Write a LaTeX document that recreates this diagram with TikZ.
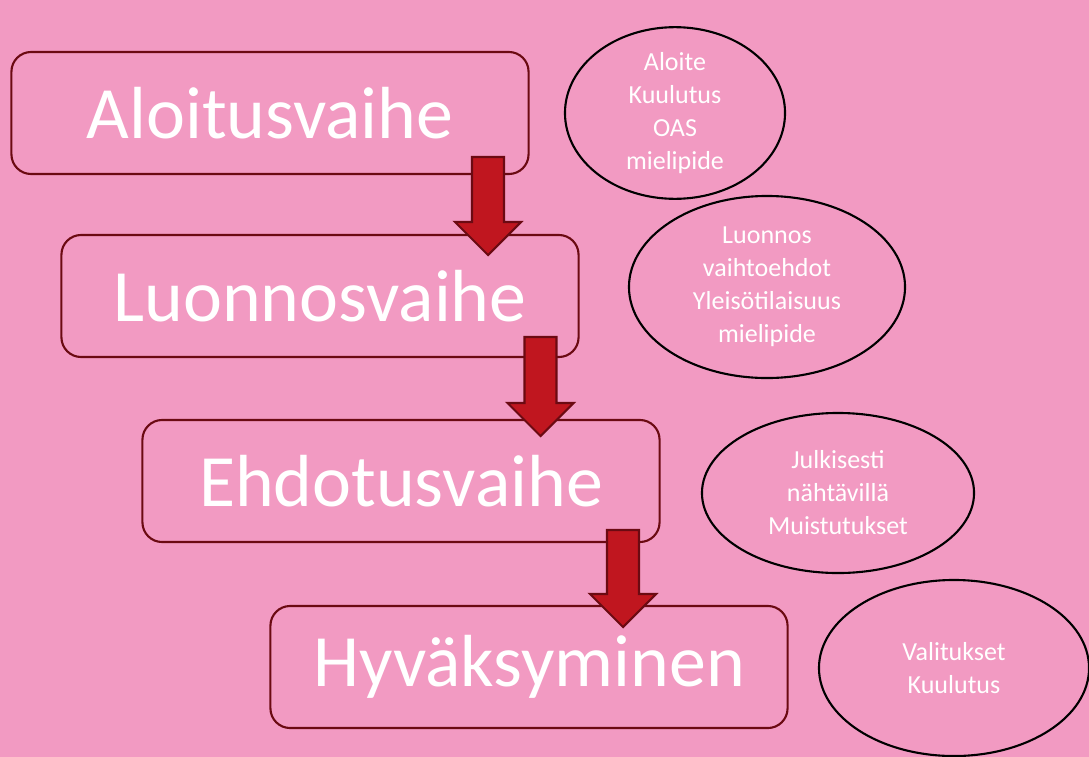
\documentclass[tikz,border=0pt]{standalone}
\usepackage{fontspec}
\setmainfont{Carlito}
\usetikzlibrary{shapes.geometric,positioning}

\definecolor{bgpink}{RGB}{242,154,194}
\definecolor{boxline}{RGB}{107,10,18}
\definecolor{arrowred}{RGB}{192,22,31}

\tikzset{
  phase/.style={draw=boxline, line width=1.5pt, rounded corners=14pt,
    minimum width=12.925cm, minimum height=3.05cm, text=white,
    font=\fontsize{52.5}{60}\selectfont},
  fat arrow/.style={draw=boxline, fill=arrowred, line width=1.5pt, line join=miter},
  note/.style={ellipse, draw=black, line width=1.5pt, fill=bgpink, text=white,
    align=center, inner sep=0pt, font=\fontsize{18.5}{23.5}\selectfont}
}
% downward block arrow: x, top, tip
\newcommand{\phasearrow}[3]{%
  \draw[fat arrow] (#1-16,#2) -- (#1+16,#2) -- (#1+16,#3-33) -- (#1+33,#3-33)
    -- (#1,#3) -- (#1-33,#3-33) -- (#1-16,#3-33) -- cycle;}

\begin{document}
\begin{tikzpicture}[x=0.025cm, y=-0.025cm]
\useasboundingbox (0,0) rectangle (1089,756);
\clip (-2,-2) rectangle (1091,758);
\fill[bgpink] (-10,-10) rectangle (1099,766);

% vaiheet
\node[phase] (aloitus) at (270,113) {Aloitusvaihe};
\node[phase] (luonnos) at (320,296) {Luonnosvaihe};
\node[phase] (ehdotus) at (401,481) {Ehdotusvaihe};
\node[phase] (hyvaksy) at (529,667) {Hyväksyminen};

% nuolet
\phasearrow{488}{157}{255}
\phasearrow{540.5}{337}{436}
\phasearrow{623}{530}{627}

% selitteet
\node[note, minimum width=5.5cm, minimum height=3.65cm] (s1) at (675,113)
  {Aloite\\Kuulutus\\OAS\\mielipide};
\node[note, minimum width=6.9cm, minimum height=4.55cm] (s2) at (767,287)
  {Luonnos\\vaihtoehdot\\Yleisötilaisuus\\mielipide};
\node[note, minimum width=6.8cm, minimum height=4.0cm] (s3) at (838,493)
  {Julkisesti\\nähtävillä\\Muistutukset};
\node[note, minimum width=6.75cm, minimum height=4.4cm] (s4) at (954,668)
  {Valitukset\\Kuulutus};
\end{tikzpicture}
\end{document}
